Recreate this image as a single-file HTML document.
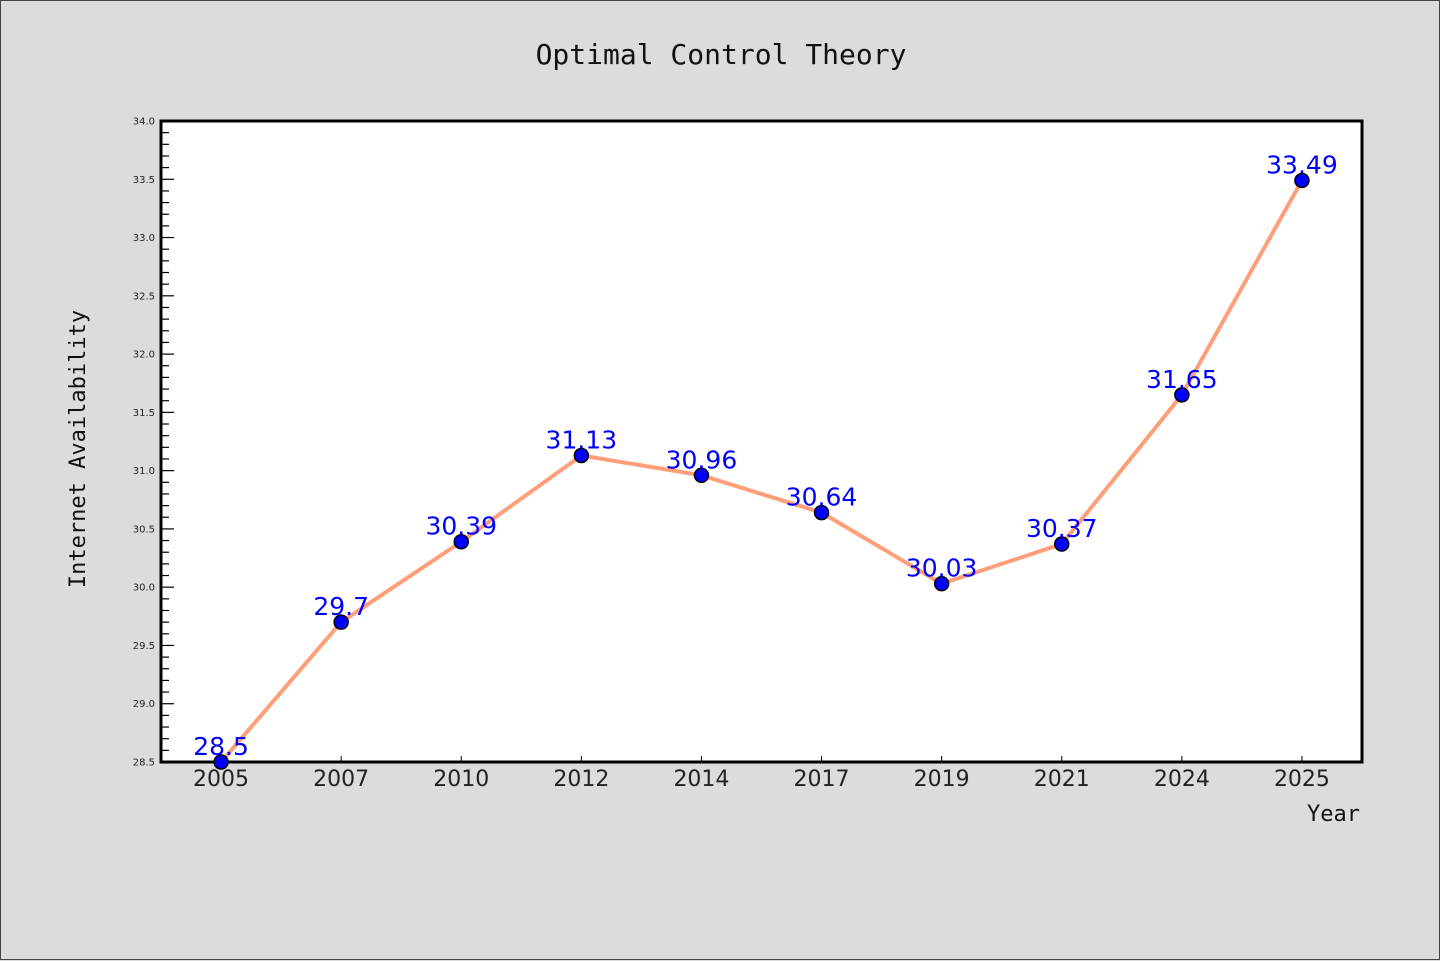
<!DOCTYPE html>
<html><head><meta charset="utf-8"><style>
body{margin:0;background:#dcdcdc;}
#wrap{width:1438px;height:958px;border:1px solid #444;position:relative;background:#dcdcdc;}
svg{position:absolute;left:0;top:0}
</style></head><body>
<div id="wrap">
<svg id="chart" width="1440" height="960"></svg>
</div>
<script>
const categories=["2005","2007","2010","2012","2014","2017","2019","2021","2024","2025"];
const values=[28.5,29.7,30.39,31.13,30.96,30.64,30.03,30.37,31.65,33.49];
const valueLabels=["28.5","29.7","30.39","31.13","30.96","30.64","30.03","30.37","31.65","33.49"];
const yTicks=[28.5,29.0,29.5,30.0,30.5,31.0,31.5,32.0,32.5,33.0,33.5,34.0];
const L=160,R=1361,T=120,B=761,yMin=28.5,yMax=34.0;
const svg=document.getElementById('chart');
const NS='http://www.w3.org/2000/svg';
function mk(tag,attrs,parent){const e=document.createElementNS(NS,tag);for(const k in attrs)e.setAttribute(k,attrs[k]);(parent||svg).appendChild(e);return e;}
const band=(R-L)/categories.length;
function xs(i){return L+band*(i+0.5);}
function ys(v){return B-(v-yMin)/(yMax-yMin)*(B-T);}
let el;
el=mk('rect',{x:L,y:T,width:R-L,height:B-T,fill:'#fff'});


el=mk('text',{x:720,y:63,'text-anchor':'middle','font-family':'DejaVu Sans Mono, Liberation Mono, monospace','font-size':28,fill:'#111'});
el.textContent='Optimal Control Theory';


el=mk('text',{x:0,y:0,transform:'translate(84,448) rotate(-90)','text-anchor':'middle','font-family':'DejaVu Sans Mono, Liberation Mono, monospace','font-size':22,fill:'#111'});
el.textContent='Internet Availability';


el=mk('text',{x:1359,y:820,'text-anchor':'end','font-family':'DejaVu Sans Mono, Liberation Mono, monospace','font-size':22,fill:'#111'});
el.textContent='Year';


// minor ticks
for(let v=yMin;v<=yMax+1e-6;v+=0.1){
  const y=ys(v);const major=Math.abs((v*2)-Math.round(v*2))<1e-6;
  el=mk('line',{x1:L,x2:L+(major?13:8),y1:y,y2:y,stroke:'#000','stroke-width':1.2});
  
  
}
yTicks.forEach(v=>{
  el=mk('text',{x:L-6,y:ys(v)+3.5,'text-anchor':'end','font-family':'DejaVu Sans, Liberation Sans, sans-serif','font-size':10,fill:'#222'});
  el.textContent=v.toFixed(1);
  
  
});
categories.forEach((c,i)=>{
  el=mk('line',{x1:xs(i),x2:xs(i),y1:B,y2:B-6,stroke:'#000','stroke-width':1});
  
  
  el=mk('text',{x:xs(i),y:B+24,'text-anchor':'middle','font-family':'DejaVu Sans, Liberation Sans, sans-serif','font-size':22,fill:'#222'});
  el.textContent=c;
  
  
});
el=mk('rect',{x:L,y:T,width:R-L,height:B-T,fill:'none',stroke:'#000','stroke-width':3});


el=mk('polyline',{points:values.map((v,i)=>xs(i)+','+ys(v)).join(' '),fill:'none',stroke:'#ff9f7a','stroke-width':4,'stroke-linejoin':'round'});


values.forEach((v,i)=>{
  el=mk('circle',{cx:xs(i),cy:ys(v),r:7,fill:'#0000ff',stroke:'#000','stroke-width':1.5});
  
  
});
values.forEach((v,i)=>{
  el=mk('text',{x:xs(i),y:ys(v)-7,'text-anchor':'middle','font-family':'DejaVu Sans, Liberation Sans, sans-serif','font-size':25,fill:'#0000ff'});
  el.textContent=valueLabels[i];
  
  
});
</script>
</body></html>
